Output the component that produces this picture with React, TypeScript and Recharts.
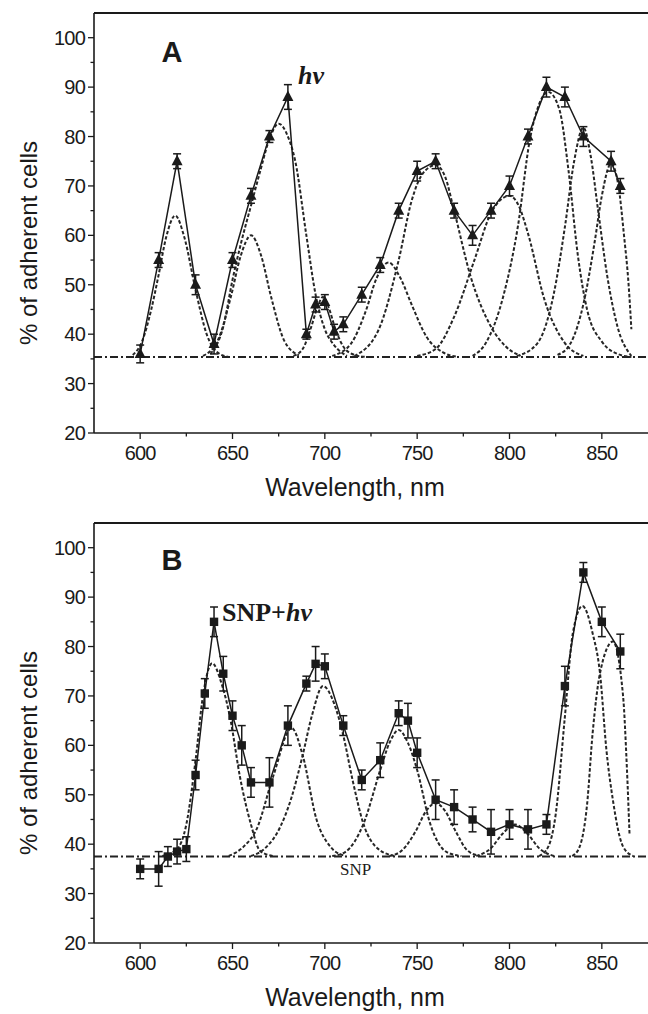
import React from 'react';
import { ComposedChart, Line, Scatter, XAxis, YAxis, ErrorBar, ReferenceLine } from 'recharts';

// panel A: light only (hv), triangles
const wavelengthsA = [600, 610, 620, 630, 640, 650, 660, 670, 680, 690, 695, 700, 705, 710, 720, 730, 740, 750, 760, 770, 780, 790, 800, 810, 820, 830, 840, 855, 860];
const adhesionA = [36, 55, 75, 50, 38, 55, 68, 80, 88, 40, 46, 46.5, 40.5, 42, 48, 54, 65, 73, 75, 65, 60, 65, 70, 80, 90, 88, 80, 75, 70];
const errorA = [1.8, 1.5, 1.5, 2, 2, 1.5, 1.5, 1.2, 2.5, 1, 1.5, 1.5, 1.5, 1.5, 1.5, 1.5, 1.5, 2, 1.5, 1.5, 2, 1.5, 2, 1.5, 2, 2, 2, 2, 1.5];
const baselineA = 35.4;

// fitted gaussian components, panel A (wavelength, %)
const gaussA1 = [[596, 35.8], [601, 38.5], [606, 45], [610, 52], [614, 59.5], [619, 64], [624, 59.5], [630, 49], [636, 40], [643, 36], [648, 35.4]];
const gaussA2 = [[634, 35.6], [642, 38.7], [649, 47.4], [654.5, 55.9], [660, 60], [665.5, 55.9], [671, 47.4], [678, 38.7], [686, 35.7]];
const gaussA3 = [[638, 36], [645, 41.5], [650, 51], [655, 59], [660, 66], [665, 73], [670, 79.5], [675, 82.6], [680, 80], [684, 75], [690, 60], [695, 48], [700, 41], [705, 37.8], [712, 35.6]];
const gaussA4 = [[683, 35.6], [688, 37], [692.5, 41.3], [696, 45.5], [699, 47.5], [702, 45.5], [705.5, 41.3], [710, 37.5], [716, 35.8], [722, 35.4]];
const gaussA5 = [[704, 35.6], [714, 38], [722, 44.5], [728, 51.3], [734.5, 54.5], [741, 51.3], [747, 46], [755, 39.5], [764, 36.3], [772, 35.4]];
const gaussA6 = [[716, 35.6], [729, 40.8], [740, 55], [747, 67], [753, 72.5], [760, 74.2], [765, 72], [770, 65], [779, 51.6], [790, 41.5], [798, 37.5], [806, 35.6]];
const gaussA7 = [[750, 35.6], [760, 37], [770, 43.5], [781, 55], [790, 64.5], [800, 68], [805, 66], [810, 60.4], [819, 46.9], [830, 38.2], [840, 35.6]];
const gaussA8 = [[780, 35.6], [787, 38.1], [797, 48.2], [804.5, 61.7], [811, 79.3], [816, 86.5], [821, 89], [827, 85.5], [832, 73], [837, 56], [842, 45], [850, 38.5], [860, 35.8], [866, 35.4]];
const gaussA9 = [[804, 35.6], [815, 38.1], [824, 48.2], [830, 61.7], [835, 75], [840, 81.8], [844, 76], [848, 65], [853, 51.6], [858.5, 41.5], [866, 35.6]];
const gaussA10 = [[826, 35.8], [833, 38.1], [840.5, 46.9], [846, 58.4], [850, 68], [855, 74.5], [859, 70], [862, 60], [864.5, 50], [866, 41]];

// panel B: SNP + light, squares
const wavelengthsB = [600, 610, 615, 620, 625, 630, 635, 640, 645, 650, 655, 660, 670, 680, 690, 695, 700, 710, 720, 730, 740, 745, 750, 760, 770, 780, 790, 800, 810, 820, 830, 840, 850, 860];
const adhesionB = [35, 35, 37.5, 38.5, 39, 54, 70.5, 85, 74.5, 66, 60, 52.5, 52.5, 64, 72.5, 76.5, 76, 64, 53, 57, 66.5, 65, 58.5, 49, 47.5, 45, 42.5, 44, 43, 44, 72, 95, 85, 79];
const errorB = [2, 3.5, 2, 2.5, 2.5, 3, 3, 3, 3.5, 3, 4, 3, 5, 4, 1.5, 3.5, 2.5, 2, 2, 3.5, 2.5, 3.5, 3, 4, 3.5, 2.5, 4.5, 3, 4, 2, 4, 2, 3, 3.5];
const baselineB = 37.5;

const gaussB1 = [[612, 37.6], [620, 39], [625, 44], [630, 57], [634, 70], [639, 76.6], [644, 72.6], [649, 65], [654, 53.7], [660, 44], [665, 38.6], [672, 37.6]];
const gaussB2 = [[648, 37.6], [656, 39.5], [663, 43], [672, 53.7], [682, 63.5], [688, 58], [695.5, 45], [703, 39.5], [711, 37.6]];
const gaussB3 = [[660, 37.6], [668, 39.3], [676, 43.6], [682, 49.5], [688, 58], [693, 66], [699, 72], [705, 68.5], [710, 62], [715, 53], [721, 44], [729, 39], [738, 37.6]];
const gaussB4 = [[704, 37.6], [711, 38.4], [721, 44.2], [730, 55], [735, 60.5], [740, 63.1], [745, 60.5], [750, 55], [757, 44.2], [766, 38.4], [774, 37.6]];
const gaussB5 = [[735, 37.6], [742, 38.8], [749, 42.5], [755, 46.8], [760, 48.3], [765, 46.8], [771, 42.5], [777, 38.8], [784, 37.6]];
const gaussB6 = [[782, 37.6], [790, 39.2], [796, 42], [803, 44], [810, 42], [816, 39.2], [824, 37.6]];
const gaussB7 = [[816, 37.6], [821, 39.5], [825, 46], [829.8, 65], [834.3, 82.7], [839.5, 88.2], [845, 82.7], [849, 74.6], [852.5, 59], [856, 48.9], [861.5, 39.5], [867, 37.6]];
const gaussB8 = [[834, 37.6], [838, 39.5], [842, 48], [845, 62.4], [849, 74.6], [856, 81], [861.5, 70], [863.5, 56], [865, 42]];

const xTicks = [600, 625, 650, 675, 700, 725, 750, 775, 800, 825, 850];
const yTicks = [20, 25, 30, 35, 40, 45, 50, 55, 60, 65, 70, 75, 80, 85, 90, 95, 100];

const INK = '#1a1a1a';
const SANS = '"Liberation Sans", Arial, sans-serif';
const SERIF = '"Liberation Serif", "Times New Roman", serif';

const toPoints = (pairs: number[][]) => pairs.map(([x, y]) => ({ x, y }));

const YTick = ({ x, y, payload }: any) => {
  const major = payload.value % 10 === 0;
  return (
    <g>
      <line x1={x - (major ? 6 : 3.5)} x2={x} y1={y} y2={y} stroke={INK} strokeWidth={1.3} />
      {major && (
        <text x={x - 9} y={y + 7} textAnchor="end" fontSize={20} fontFamily={SANS} fill={INK} letterSpacing={-0.8}>
          {payload.value}
        </text>
      )}
    </g>
  );
};

const XTick = ({ x, y, payload }: any) => {
  const major = payload.value % 50 === 0;
  return (
    <g>
      <line x1={x} x2={x} y1={y} y2={y + (major ? 6 : 3.5)} stroke={INK} strokeWidth={1.3} />
      {major && (
        <text x={x} y={y + 27} textAnchor="middle" fontSize={20} fontFamily={SANS} fill={INK} letterSpacing={-0.8}>
          {payload.value}
        </text>
      )}
    </g>
  );
};

const Triangle = ({ cx, cy }: any) => (
  <polygon points={`${cx},${cy - 6.5} ${cx - 5.5},${cy + 4} ${cx + 5.5},${cy + 4}`} fill={INK} />
);

const Square = ({ cx, cy }: any) => <rect x={cx - 4.2} y={cy - 4.2} width={8.4} height={8.4} fill={INK} />;

interface PanelProps {
  wavelengths: number[];
  values: number[];
  errors: number[];
  baseline: number;
  curves: number[][][];
  marker: 'triangle' | 'square';
  children?: React.ReactNode;
}

function Panel({ wavelengths, values, errors, baseline, curves, marker, children }: PanelProps) {
  const points = wavelengths.map((x, i) => ({ x, y: values[i], err: errors[i] }));
  return (
    <div style={{ position: 'relative', width: 648, height: 510 }}>
      <ComposedChart width={648} height={510} margin={{ top: 13, right: 0, bottom: 47, left: 0 }}>
        <XAxis
          type="number"
          dataKey="x"
          domain={[575, 875]}
          ticks={xTicks}
          height={30}
          tickSize={0}
          tickMargin={0}
          tick={<XTick />}
          interval={0}
          axisLine={{ stroke: INK, strokeWidth: 1.6 }}
          allowDataOverflow
        />
        <YAxis
          type="number"
          dataKey="y"
          domain={[20, 105]}
          ticks={yTicks}
          width={94}
          tickSize={0}
          tickMargin={0}
          tick={<YTick />}
          interval={0}
          axisLine={{ stroke: INK, strokeWidth: 1.6 }}
          allowDataOverflow
        />
        <ReferenceLine y={105} stroke={INK} strokeWidth={2} />
        <ReferenceLine y={baseline} stroke="#222" strokeWidth={2} strokeDasharray="8 3 2 3" />
        {curves.map((c, i) => (
          <Line
            key={`g${i}`}
            name={`g${i}`}
            data={toPoints(c)}
            dataKey="y"
            type="monotone"
            stroke="#262626"
            strokeWidth={2}
            strokeDasharray="3.5 2"
            dot={false}
            activeDot={false}
            isAnimationActive={false}
          />
        ))}
        <Scatter
          data={points}
          dataKey="y"
          line={{ stroke: INK, strokeWidth: 1.5 }}
          shape={marker === 'triangle' ? <Triangle /> : <Square />}
          isAnimationActive={false}
        >
          <ErrorBar dataKey="err" direction="y" width={4} stroke={INK} strokeWidth={1.5} />
        </Scatter>
      </ComposedChart>
      <svg width={648} height={510} style={{ position: 'absolute', left: 0, top: 0, pointerEvents: 'none' }}>
        <text
          transform="translate(37 243) rotate(-90)"
          textAnchor="middle"
          fontSize={24}
          fontFamily={SANS}
          fill={INK}
        >
          % of adherent cells
        </text>
        <text x={355} y={496} textAnchor="middle" fontSize={25} fontFamily={SANS} fill={INK}>
          Wavelength, nm
        </text>
        {children}
      </svg>
    </div>
  );
}

export default function App() {
  return (
    <div style={{ position: 'absolute', left: 0, top: 0, width: 648, height: 1014, background: '#fff' }}>
      <Panel
        wavelengths={wavelengthsA}
        values={adhesionA}
        errors={errorA}
        baseline={baselineA}
        curves={[gaussA1, gaussA2, gaussA3, gaussA4, gaussA5, gaussA6, gaussA7, gaussA8, gaussA9, gaussA10]}
        marker="triangle"
      >
        <text x={172} y={62} textAnchor="middle" fontSize={29} fontWeight="bold" fontFamily={SANS} fill={INK}>
          A
        </text>
        <text x={298} y={84} fontSize={26} fontWeight="bold" fontStyle="italic" fontFamily={SERIF} fill={INK}>
          hv
        </text>
      </Panel>
      <Panel
        wavelengths={wavelengthsB}
        values={adhesionB}
        errors={errorB}
        baseline={baselineB}
        curves={[gaussB1, gaussB2, gaussB3, gaussB4, gaussB5, gaussB6, gaussB7, gaussB8]}
        marker="square"
      >
        <text x={172} y={60} textAnchor="middle" fontSize={29} fontWeight="bold" fontFamily={SANS} fill={INK}>
          B
        </text>
        <text x={222} y={111} fontSize={26} fontWeight="bold" fontFamily={SERIF} fill={INK}>
          SNP+<tspan fontStyle="italic">hv</tspan>
        </text>
        <text x={340} y={365} fontSize={17} fontFamily={SERIF} fill={INK}>
          SNP
        </text>
      </Panel>
    </div>
  );
}
